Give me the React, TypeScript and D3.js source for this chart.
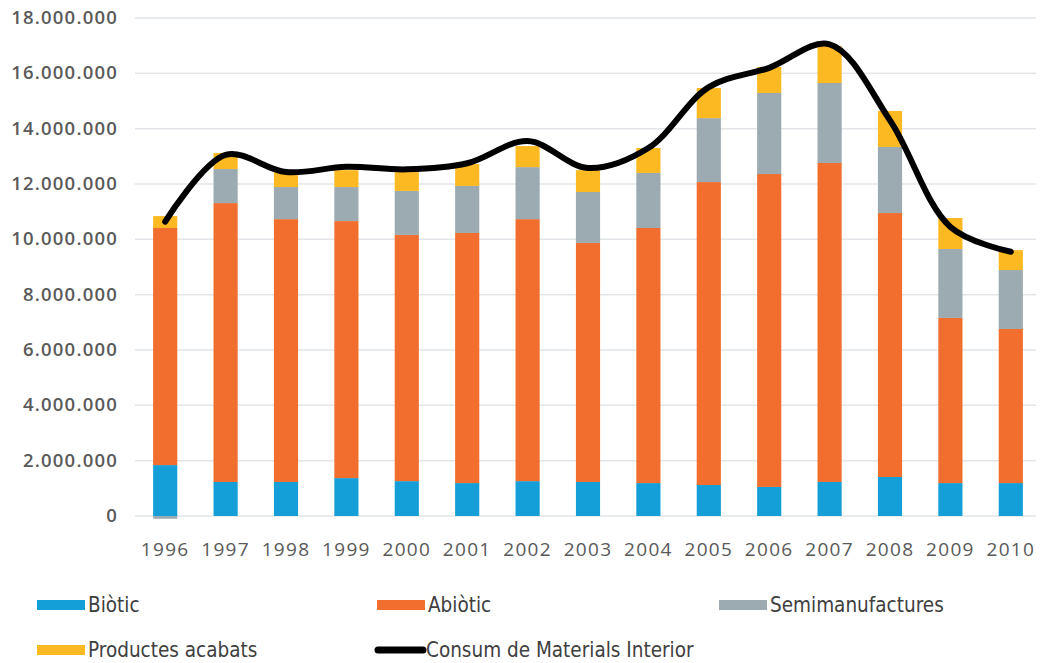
import React, { useEffect, useRef } from 'react';
import * as d3 from 'd3';

// dades (milions de tones)
const years = ['1996', '1997', '1998', '1999', '2000', '2001', '2002', '2003', '2004', '2005', '2006', '2007', '2008', '2009', '2010'];
const biotic = [1.84, 1.23, 1.23, 1.37, 1.26, 1.19, 1.26, 1.23, 1.19, 1.12, 1.05, 1.23, 1.41, 1.19, 1.19];
const abiotic = [8.57, 10.08, 9.5, 9.29, 8.9, 9.04, 9.47, 8.64, 9.22, 10.95, 11.31, 11.53, 9.54, 5.97, 5.57];
const semimanufactures = [-0.1, 1.23, 1.16, 1.23, 1.59, 1.7, 1.88, 1.84, 1.99, 2.31, 2.93, 2.89, 2.39, 2.49, 2.13];
const productes = [0.43, 0.58, 0.54, 0.61, 0.68, 0.79, 0.76, 0.79, 0.9, 1.09, 0.94, 1.34, 1.3, 1.12, 0.72];
const consum = [10.64, 13.05, 12.43, 12.62, 12.53, 12.75, 13.55, 12.58, 13.3, 15.5, 16.2, 17.05, 14.3, 10.45, 9.55];
const yTicks = [0, 2, 4, 6, 8, 10, 12, 14, 16, 18];

const keys = ['biotic', 'abiotic', 'semi', 'prod'];
const colors = { biotic: '#149fd9', abiotic: '#f16e2e', semi: '#9caab1', prod: '#fcb922' };

const App = () => {
    const ref = useRef(null);

    useEffect(() => {
        const svg = d3.select(ref.current);
        svg.selectAll('*').remove();

        const x = d3.scaleBand().domain(years).range([135, 1041]).paddingInner(0.6).paddingOuter(0.3);
        const y = d3.scaleLinear().domain([0, 18]).range([516, 18]);

        // graella
        svg.append('g')
            .selectAll('line')
            .data(yTicks)
            .join('line')
            .attr('x1', 135).attr('x2', 1036)
            .attr('y1', d => y(d)).attr('y2', d => y(d))
            .attr('stroke', '#e2e6e9').attr('stroke-width', 1.5);

        svg.append('g')
            .selectAll('text')
            .data(yTicks)
            .join('text')
            .attr('x', 118).attr('y', d => y(d) + 6)
            .attr('text-anchor', 'end')
            .attr('font-family', 'Open Sans').attr('font-size', 18.5).attr('letter-spacing', 1.2)
            .attr('font-weight', 600)
            .attr('fill', '#5a5a5a')
            .text(d => d === 0 ? '0' : d3.format(',')(d * 1000000).replace(/,/g, '.'));

        const table = years.map((yr, i) => ({
            year: yr, biotic: biotic[i], abiotic: abiotic[i], semi: semimanufactures[i], prod: productes[i]
        }));
        const series = d3.stack().keys(keys).offset(d3.stackOffsetDiverging)(table);

        svg.append('g')
            .selectAll('g')
            .data(series)
            .join('g')
            .attr('fill', d => colors[d.key])
            .selectAll('rect')
            .data(d => d)
            .join('rect')
            .attr('x', d => x(d.data.year))
            .attr('width', x.bandwidth())
            .attr('y', d => y(Math.max(d[0], d[1])))
            .attr('height', d => Math.abs(y(d[0]) - y(d[1])));

        const line = d3.line()
            .x((d, i) => x(years[i]) + x.bandwidth() / 2)
            .y(d => y(d))
            .curve(d3.curveCatmullRom.alpha(0.5));
        svg.append('path')
            .attr('d', line(consum))
            .attr('fill', 'none').attr('stroke', '#000').attr('stroke-width', 6)
            .attr('stroke-linecap', 'round');

        svg.append('g')
            .selectAll('text')
            .data(years)
            .join('text')
            .attr('x', d => x(d) + x.bandwidth() / 2)
            .attr('y', 556)
            .attr('text-anchor', 'middle')
            .attr('font-family', 'Open Sans').attr('font-size', 19).attr('letter-spacing', 1.3)
            .attr('fill', '#595959')
            .text(d => d);

        // llegenda
        const legend = [
            { label: 'Biòtic', color: colors.biotic, lx: 37, ly: 605 },
            { label: 'Abiòtic', color: colors.abiotic, lx: 377, ly: 605 },
            { label: 'Semimanufactures', color: colors.semi, lx: 719, ly: 605 },
            { label: 'Productes acabats', color: colors.prod, lx: 37, ly: 650 },
            { label: 'Consum de Materials Interior', color: '#000', lx: 375, ly: 650, isLine: true }
        ];
        const lg = svg.append('g').selectAll('g').data(legend).join('g');
        lg.filter(d => !d.isLine).append('rect')
            .attr('x', d => d.lx).attr('y', d => d.ly - 5)
            .attr('width', 48).attr('height', 10)
            .attr('fill', d => d.color);
        lg.filter(d => d.isLine).append('line')
            .attr('x1', d => d.lx + 3).attr('x2', d => d.lx + 48)
            .attr('y1', d => d.ly).attr('y2', d => d.ly)
            .attr('stroke', '#000').attr('stroke-width', 7).attr('stroke-linecap', 'round');
        lg.append('text')
            .attr('x', d => d.lx + 51).attr('y', d => d.ly + 7)
            .attr('font-family', 'DejaVu Sans Condensed').attr('font-size', 20.5)
            .attr('fill', '#404040')
            .text(d => d.label);
    }, []);

    return (
        <svg ref={ref} width={1044} height={663} style={{ position: 'absolute', left: 0, top: 0, background: '#fff' }} />
    );
};

export default App;
